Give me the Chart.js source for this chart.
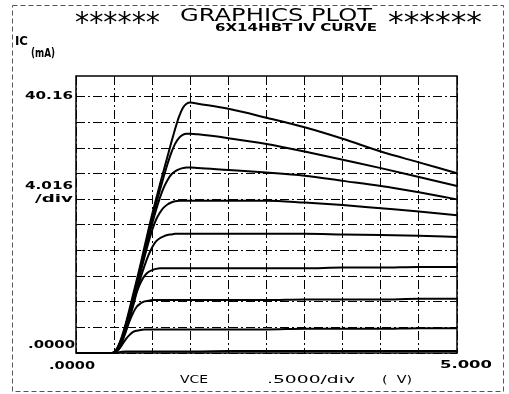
<!DOCTYPE html>
<html>
<head>
<meta charset="utf-8">
<script src="https://cdn.jsdelivr.net/npm/chart.js@4.4.1/dist/chart.umd.min.js"></script>
<style>
  html, body { margin: 0; padding: 0; background: #fff; }
  #wrap { width: 509px; height: 394px; }
</style>
</head>
<body>
<div id="wrap"><canvas id="ivChart" width="509" height="394"></canvas></div>
<script>
// VCE sweep points (V)
const vce = [0, 0.45, 0.5, 0.55, 0.6, 0.65, 0.7, 0.75, 0.8, 0.85, 0.9, 0.95, 1.0, 1.05, 1.1, 1.15, 1.2, 1.25, 1.3, 1.35, 1.4, 1.45, 1.5, 1.6, 2.0, 2.5, 3.0, 3.5, 4.0, 4.5, 5.0];

// IC (mA), one array per base current step
const ic1 = [0, 0, 0.1, 1.0, 2.5, 4.5, 6.8, 9.2, 11.6, 14.1, 16.7, 19.3, 21.8, 24.1, 26.4, 28.6, 30.8, 33.0, 35.1, 37.0, 38.4, 39.1, 39.3, 39.1, 38.3, 36.9, 35.4, 33.6, 31.6, 29.9, 28.2];
const ic2 = [0, 0, 0.1, 0.9, 2.3, 4.2, 6.4, 8.7, 11.1, 13.6, 16.1, 18.6, 21.0, 23.3, 25.5, 27.6, 29.6, 31.4, 32.8, 33.7, 34.2, 34.4, 34.4, 34.3, 33.7, 32.8, 31.6, 30.3, 29.0, 27.6, 26.2];
const ic3 = [0, 0, 0.1, 0.8, 2.2, 4.0, 6.1, 8.4, 10.8, 13.2, 15.6, 18.0, 20.3, 22.4, 24.3, 25.9, 27.1, 28.0, 28.5, 28.8, 29.0, 29.1, 29.1, 29.0, 28.7, 28.3, 27.8, 27.0, 26.2, 25.2, 24.1];
const ic4 = [0, 0, 0.1, 0.8, 2.1, 3.9, 5.9, 8.1, 10.5, 12.8, 15.1, 17.3, 19.3, 20.9, 22.0, 22.8, 23.3, 23.6, 23.8, 23.9, 23.9, 23.9, 23.9, 23.9, 23.9, 23.9, 23.6, 23.2, 22.7, 22.2, 21.6];
const ic5 = [0, 0, 0.1, 0.7, 2.0, 3.7, 5.6, 7.7, 9.9, 11.9, 13.7, 15.3, 16.6, 17.5, 18.0, 18.3, 18.5, 18.6, 18.7, 18.7, 18.7, 18.7, 18.7, 18.7, 18.7, 18.7, 18.7, 18.6, 18.5, 18.4, 18.2];
const ic6 = [0, 0, 0.1, 0.6, 1.8, 3.4, 5.3, 7.4, 9.6, 11.1, 12.1, 12.7, 13.0, 13.2, 13.3, 13.3, 13.3, 13.3, 13.3, 13.3, 13.3, 13.3, 13.3, 13.3, 13.3, 13.3, 13.3, 13.4, 13.4, 13.5, 13.5];
const ic7 = [0, 0, 0.1, 0.5, 1.6, 3.2, 4.9, 6.3, 7.3, 7.8, 8.1, 8.2, 8.3, 8.3, 8.3, 8.3, 8.3, 8.3, 8.3, 8.3, 8.3, 8.3, 8.3, 8.3, 8.3, 8.3, 8.4, 8.4, 8.4, 8.5, 8.5];
const ic8 = [0, 0, 0.05, 0.4, 1.2, 2.1, 2.8, 3.3, 3.5, 3.6, 3.7, 3.7, 3.7, 3.7, 3.7, 3.7, 3.7, 3.7, 3.7, 3.7, 3.7, 3.7, 3.7, 3.7, 3.7, 3.7, 3.8, 3.8, 3.8, 3.9, 3.9];
const ic9 = [0, 0, 0, 0.1, 0.2, 0.25, 0.25, 0.25, 0.25, 0.25, 0.25, 0.25, 0.25, 0.25, 0.25, 0.25, 0.25, 0.25, 0.25, 0.25, 0.25, 0.25, 0.25, 0.25, 0.3, 0.3, 0.3, 0.3, 0.3, 0.3, 0.3];

// grid positions (10 divisions each way)
const xGrid = [0, 0.5, 1.0, 1.5, 2.0, 2.5, 3.0, 3.5, 4.0, 4.5, 5.0];
const yGrid = [0, 4.016, 8.032, 12.048, 16.064, 20.08, 24.096, 28.112, 32.128, 36.144, 40.16];

// texts
const titleText = 'GRAPHICS PLOT';
const starText = '******';
const subTitle = '6X14HBT IV CURVE';
const yName = 'IC';
const yUnit = '(mA)';
const yTopLabel = '40.16';
const yDivLabel = '4.016';
const yZeroLabel = '.0000';
const xZeroLabel = '.0000';
const xEndLabel = '5.000';
const xName = 'VCE';
const xDivLabel = '.5000/div';
const xUnit = '(  V)';

const series = [ic1, ic2, ic3, ic4, ic5, ic6, ic7, ic8, ic9];

// draw a string squeezed/stretched to a given width
function fitText(ctx, str, x, baseline, width, size, weight) {
    ctx.save();
    ctx.font = weight + ' ' + size + 'px "DejaVu Sans"';
    ctx.textAlign = 'left';
    ctx.textBaseline = 'alphabetic';
    const w = ctx.measureText(str).width;
    ctx.translate(x, baseline);
    ctx.scale(width / w, 1);
    ctx.fillStyle = '#000';
    ctx.fillText(str, 0, 0);
    ctx.restore();
}

const plotterDecor = {
    id: 'plotterDecor',
    beforeDatasetsDraw(chart) {
        const ctx = chart.ctx;
        const a = chart.chartArea;
        ctx.save();
        ctx.strokeStyle = '#000';
        ctx.lineWidth = 1.5;
        ctx.strokeRect(a.left, a.top, a.right - a.left, a.bottom - a.top);
        ctx.restore();
    },
    afterDraw(chart) {
        const ctx = chart.ctx;
        const ys = chart.scales.y;

        // outer dashed page border
        ctx.save();
        ctx.strokeStyle = '#555';
        ctx.lineWidth = 1;
        ctx.setLineDash([5, 3]);
        ctx.strokeRect(12.5, 5.5, 491, 386);
        ctx.restore();

        // header
        fitText(ctx, starText, 75, 32, 85, 28, 'normal');
        fitText(ctx, titleText, 180, 21, 192, 18, 'normal');
        fitText(ctx, starText, 388, 32, 94, 28, 'normal');
        fitText(ctx, subTitle, 215, 31, 162, 11, 'bold');

        // y axis name
        fitText(ctx, yName, 15, 45, 13, 12, 'bold');
        fitText(ctx, yUnit, 31, 57, 24, 12, 'bold');

        // y labels
        fitText(ctx, yTopLabel, 25, ys.getPixelForValue(40.16) + 2, 48, 10.5, 'bold');
        fitText(ctx, yDivLabel, 25, ys.getPixelForValue(yGrid[6]) - 10, 48, 10.5, 'bold');
        fitText(ctx, '/div', 35, ys.getPixelForValue(yGrid[6]) + 3, 38, 10.5, 'bold');
        fitText(ctx, yZeroLabel, 28, ys.getPixelForValue(0) - 5, 47, 10.5, 'bold');

        // x labels
        fitText(ctx, xZeroLabel, 49, 369, 46, 10.5, 'bold');
        fitText(ctx, xEndLabel, 440, 368, 52, 10.5, 'bold');
        fitText(ctx, xName, 180, 383, 28, 10.5, 'normal');
        fitText(ctx, xDivLabel, 267, 383, 88, 10.5, 'normal');
        fitText(ctx, xUnit, 382, 383, 30, 10.5, 'normal');
    }
};

const ctx = document.getElementById('ivChart').getContext('2d');

const datasets = series.map(function(arr) {
    return {
        data: vce.map((v, i) => ({x: v, y: arr[i]})),
        borderColor: '#000',
        borderWidth: 2,
        pointRadius: 0,
        cubicInterpolationMode: 'monotone',
        fill: false,
        clip: 4
    };
});

const gridDash = [9, 3, 2, 3];

new Chart(ctx, {
    type: 'line',
    data: { datasets: datasets },
    options: {
        responsive: false,
        animation: false,
        devicePixelRatio: 1,
        layout: { padding: { left: 76, top: 76, right: 52, bottom: 41 } },
        plugins: {
            legend: { display: false },
            tooltip: { enabled: false },
            title: { display: false }
        },
        scales: {
            x: {
                type: 'linear',
                min: 0,
                max: 5,
                afterBuildTicks: function(s) { s.ticks = xGrid.map(v => ({value: v})); },
                ticks: { display: false },
                grid: { color: '#000', lineWidth: 1, drawTicks: false },
                border: { display: false, dash: gridDash }
            },
            y: {
                type: 'linear',
                min: 0,
                max: 43.45,
                afterBuildTicks: function(s) { s.ticks = yGrid.map(v => ({value: v})); },
                ticks: { display: false },
                grid: { color: '#000', lineWidth: 1, drawTicks: false },
                border: { display: false, dash: gridDash }
            }
        }
    },
    plugins: [plotterDecor]
});
</script>
</body>
</html>
